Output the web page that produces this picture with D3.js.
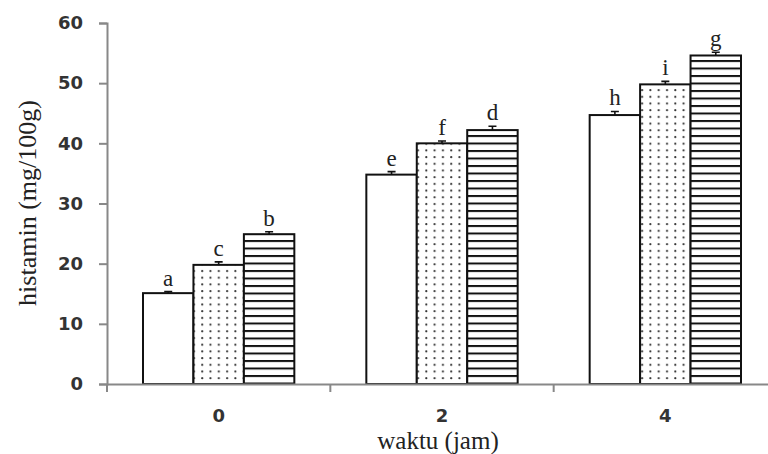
<!DOCTYPE html>
<html>
<head>
<meta charset="utf-8">
<script src="https://cdn.jsdelivr.net/npm/d3@7"></script>
<style>
  body { margin: 0; background: #fff; }
</style>
</head>
<body>
<script>
// data
const times = ["0", "2", "4"];
const groups = ["plain", "dots", "lines"];
const plainValues = [15.1, 34.8, 44.7];
const dotsValues = [19.8, 40.0, 49.8];
const linesValues = [24.9, 42.2, 54.6];
const plainErrors = [0.25, 0.5, 0.6];
const dotsErrors = [0.5, 0.4, 0.5];
const linesErrors = [0.4, 0.65, 0.55];
const plainLetters = ["a", "e", "h"];
const dotsLetters = ["c", "f", "i"];
const linesLetters = ["b", "d", "g"];
const yTicks = [0, 10, 20, 30, 40, 50, 60];

const valueSets = [plainValues, dotsValues, linesValues];
const errorSets = [plainErrors, dotsErrors, linesErrors];
const letterSets = [plainLetters, dotsLetters, linesLetters];

const rows = [];
times.forEach((t, i) => {
  groups.forEach((g, j) => {
    rows.push({time: t, group: g, value: valueSets[j][i], err: errorSets[j][i], letter: letterSets[j][i]});
  });
});

const width = 768, height = 454;

const svg = d3.select("body")
  .append("svg")
    .attr("width", width)
    .attr("height", height);

// fill patterns
const defs = svg.append("defs");
const dots = defs.append("pattern")
    .attr("id", "dots")
    .attr("patternUnits", "userSpaceOnUse")
    .attr("width", 8.3)
    .attr("height", 6.7);
dots.append("rect").attr("width", 8.3).attr("height", 6.7).attr("fill", "#fff");
dots.append("circle").attr("cx", 3).attr("cy", 3).attr("r", 1.1).attr("fill", "#333");

const lines = defs.append("pattern")
    .attr("id", "lines")
    .attr("patternUnits", "userSpaceOnUse")
    .attr("width", 10)
    .attr("height", 7.5);
lines.append("rect").attr("width", 10).attr("height", 7.5).attr("fill", "#fff");
lines.append("rect").attr("y", 0).attr("width", 10).attr("height", 2).attr("fill", "#111");

const fills = {plain: "#fff", dots: "url(#dots)", lines: "url(#lines)"};

// scales
const x = d3.scaleBand()
    .domain(times)
    .range([107, 777]);

const xInner = d3.scaleBand()
    .domain(groups)
    .range([36, x.bandwidth() - 36]);

const y = d3.scaleLinear()
    .domain([0, 60])
    .range([384, 23]);

// bars
svg.selectAll(".bar")
  .data(rows)
  .enter()
  .append("rect")
    .attr("class", "bar")
    .attr("x", d => x(d.time) + xInner(d.group))
    .attr("y", d => y(d.value))
    .attr("width", xInner.bandwidth())
    .attr("height", d => y(0) - y(d.value))
    .attr("fill", d => fills[d.group])
    .attr("stroke", "#111")
    .attr("stroke-width", 2);

// error bars
const cx = d => x(d.time) + xInner(d.group) + xInner.bandwidth() / 2;
svg.selectAll(".err")
  .data(rows)
  .enter()
  .append("path")
    .attr("class", "err")
    .attr("d", d => `M${cx(d)},${y(d.value)}V${y(d.value + d.err)}M${cx(d) - 4},${y(d.value + d.err)}H${cx(d) + 4}`)
    .attr("stroke", "#111")
    .attr("stroke-width", 1.6)
    .attr("fill", "none");

// letters
svg.selectAll(".letter")
  .data(rows)
  .enter()
  .append("text")
    .attr("class", "letter")
    .attr("x", d => cx(d))
    .attr("y", d => y(d.value + d.err) - 6)
    .attr("text-anchor", "middle")
    .attr("font-family", "'Liberation Serif', serif")
    .attr("font-size", "23px")
    .attr("fill", "#222")
    .text(d => d.letter);

// y axis
const yAxis = svg.append("g")
    .attr("transform", "translate(107,0)")
    .call(d3.axisLeft(y).tickValues(yTicks).tickSize(8).tickPadding(16));
yAxis.selectAll("path, line").attr("stroke", "#888").attr("stroke-width", 2);
yAxis.selectAll("text")
    .attr("font-family", "'DejaVu Sans', sans-serif")
    .attr("font-weight", "bold")
    .attr("font-size", "18px")
    .attr("fill", "#333");

// x axis
const xAxis = svg.append("g")
    .attr("transform", "translate(0,384)")
    .call(d3.axisBottom(x).tickSize(0).tickSizeOuter(0).tickPadding(25));
xAxis.select("path").attr("stroke", "#888").attr("stroke-width", 2);
xAxis.selectAll("text")
    .attr("font-family", "'DejaVu Sans', sans-serif")
    .attr("font-weight", "bold")
    .attr("font-size", "18px")
    .attr("fill", "#333");

// category boundary ticks
const bounds = times.map(t => x(t)).concat([x.range()[1]]);
xAxis.selectAll(".bound")
  .data(bounds)
  .enter()
  .append("line")
    .attr("class", "bound")
    .attr("x1", d => d)
    .attr("x2", d => d)
    .attr("y1", 0)
    .attr("y2", 8)
    .attr("stroke", "#888")
    .attr("stroke-width", 2);

// axis titles
svg.append("text")
    .attr("transform", "translate(36,203) rotate(-90)")
    .attr("text-anchor", "middle")
    .attr("font-family", "'Liberation Serif', serif")
    .attr("font-size", "26px")
    .attr("fill", "#222")
    .text("histamin (mg/100g)");

svg.append("text")
    .attr("x", 438)
    .attr("y", 449)
    .attr("text-anchor", "middle")
    .attr("font-family", "'Liberation Serif', serif")
    .attr("font-size", "25px")
    .attr("fill", "#222")
    .text("waktu (jam)");
</script>
</body>
</html>
